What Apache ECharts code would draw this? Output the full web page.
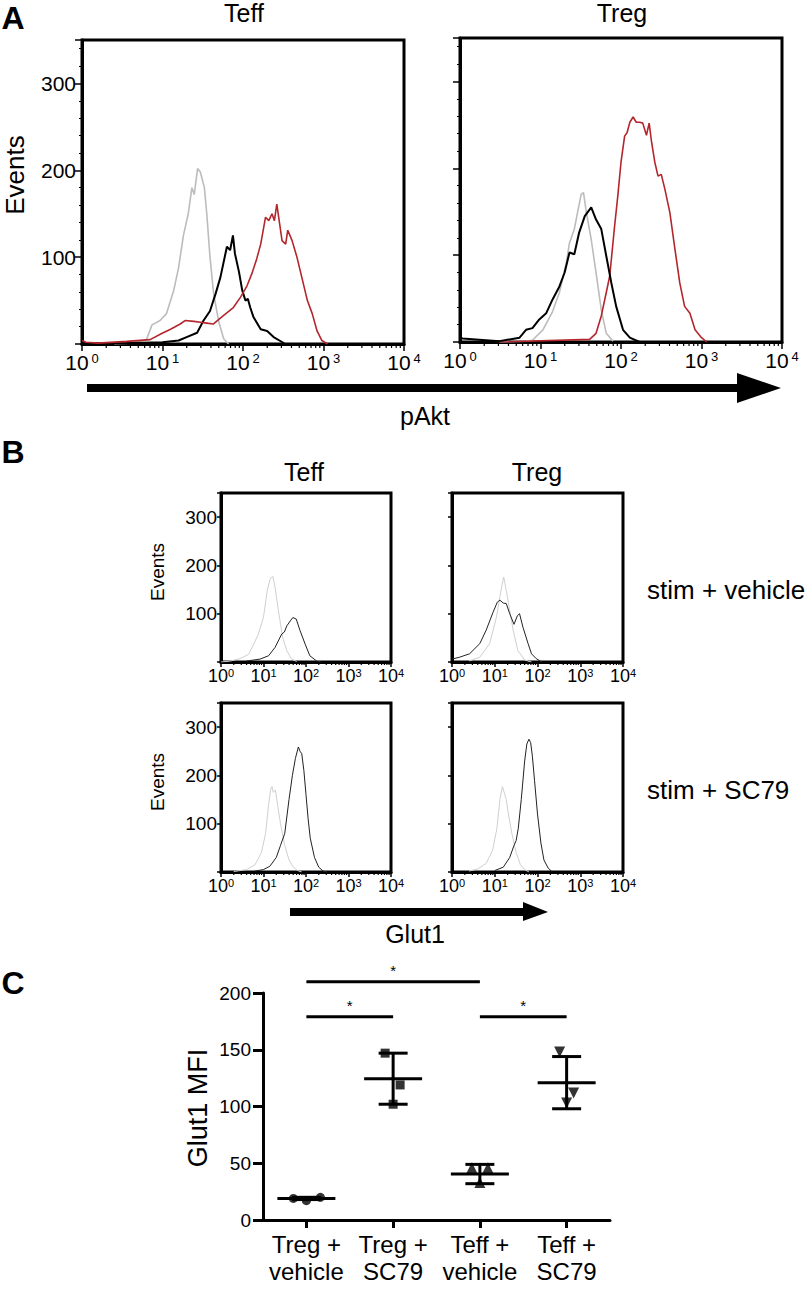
<!DOCTYPE html>
<html><head><meta charset="utf-8">
<script src="https://cdn.jsdelivr.net/npm/echarts@6/dist/echarts.min.js"></script>
<style>html,body{margin:0;padding:0;background:#fff}#c{width:812px;height:1290px}</style>
</head><body><div id="c"></div>
<script>
// ---------- DATA ----------
// Panel A, Teff (x = log10 fluorescence, y = events)
const A_TEFF_GRAY_X = [0.40,0.60,0.80,0.87,0.97,1.05,1.14,1.20,1.26,1.32,1.365,1.394,1.436,1.47,1.52,1.55,1.59,1.635,1.70,1.76,1.82];
const A_TEFF_GRAY_Y = [0,1,5,22,27,35,62,88,125,150,180,172,202,198,180,150,100,58,25,6,0];
const A_TEFF_BLACK_X = [0.0,0.5,1.0,1.2,1.3,1.43,1.51,1.59,1.66,1.72,1.80,1.84,1.875,1.90,1.95,1.99,2.03,2.06,2.09,2.13,2.22,2.30,2.38,2.49,2.52];
const A_TEFF_BLACK_Y = [1,1,2,4,8,13,27,38,58,77,112,108,125,104,83,62,50,52,42,31,17,15,8,2,0];
const A_TEFF_RED_X = [0.0,0.05,0.2,0.556,0.846,0.99,1.10,1.22,1.28,1.39,1.47,1.55,1.63,1.76,1.88,1.97,2.05,2.11,2.17,2.22,2.28,2.32,2.36,2.39,2.42,2.485,2.53,2.556,2.61,2.67,2.73,2.80,2.86,2.92,2.98,3.05];
const A_TEFF_RED_Y = [4,2,1,3,5,12,17,23,27,26,25,24,23,33,42,54,67,81,98,115,146,142,150,142,161,119,115,131,119,100,77,50,35,15,4,0];
// Panel A, Treg
const A_TREG_GRAY_X = [0.49,0.82,0.90,1.03,1.15,1.235,1.32,1.36,1.42,1.46,1.505,1.534,1.57,1.63,1.69,1.755,1.817,1.90];
const A_TREG_GRAY_Y = [0,1,2,14,35,57,91,114,130,149,170,172,149,118,80,37,10,1];
const A_TREG_BLACK_X = [0.0,0.03,0.49,0.74,0.82,0.90,0.985,1.07,1.15,1.235,1.30,1.36,1.42,1.48,1.55,1.63,1.69,1.755,1.817,1.88,1.94,2.025,2.11,2.23];
const A_TREG_BLACK_Y = [6,4,1,5,14,16,26,33,49,64,80,103,101,126,145,155,141,130,99,68,41,14,5,0];
const A_TREG_RED_X = [0.5,1.61,1.69,1.755,1.817,1.86,1.92,1.96,2.0,2.045,2.075,2.11,2.15,2.19,2.233,2.27,2.316,2.35,2.38,2.42,2.46,2.50,2.545,2.607,2.67,2.73,2.79,2.856,2.92,3.0,3.065];
const A_TREG_RED_Y = [0,3,10,30,57,76,133,168,207,237,241,253,259,253,253,252,238,252,230,207,191,193,176,149,107,68,41,33,14,5,0];
// Panel B, stim + vehicle
const B_TEFF_VEH_GRAY_X = [0.0,0.22,0.45,0.65,0.77,0.88,1.0,1.09,1.16,1.22,1.27,1.35,1.45,1.55,1.66,1.78];
const B_TEFF_VEH_GRAY_Y = [0,2,7,16,37,58,93,149,173,177,156,107,51,23,6,1];
const B_TEFF_VEH_BLACK_X = [0.6,0.92,1.12,1.27,1.43,1.49,1.55,1.63,1.69,1.77,1.86,1.98,2.09,2.25,2.35];
const B_TEFF_VEH_BLACK_Y = [2,6,13,30,58,62,75,85,92,89,65,37,13,2,0];
const B_TREG_VEH_GRAY_X = [0.4,0.65,0.88,1.04,1.16,1.21,1.27,1.35,1.43,1.54,1.70,1.86];
const B_TREG_VEH_GRAY_Y = [2,10,38,93,155,176,148,107,66,24,4,0];
const B_TREG_VEH_BLACK_X = [0.0,0.18,0.41,0.65,0.80,0.96,1.06,1.12,1.2,1.27,1.35,1.45,1.53,1.58,1.66,1.78,1.86,1.97,2.1];
const B_TREG_VEH_BLACK_Y = [6,10,17,38,66,103,124,128,122,121,100,78,96,100,72,38,17,7,0];
// Panel B, stim + SC79
const B_TEFF_SC_GRAY_X = [0.3,0.6,0.8,0.95,1.05,1.12,1.17,1.2,1.23,1.28,1.33,1.4,1.5,1.6,1.7,1.8,1.9];
const B_TEFF_SC_GRAY_Y = [1,5,15,40,80,140,172,177,165,170,140,100,55,25,10,3,0];
const B_TEFF_SC_BLACK_X = [0.8,1.0,1.15,1.3,1.4,1.5,1.6,1.68,1.75,1.82,1.86,1.9,1.95,2.0,2.05,2.1,2.2,2.3,2.4,2.5];
const B_TEFF_SC_BLACK_Y = [2,5,12,30,55,80,150,200,235,259,250,245,210,160,110,70,30,10,2,0];
const B_TREG_SC_GRAY_X = [0.4,0.6,0.8,0.95,1.05,1.12,1.18,1.22,1.27,1.32,1.4,1.5,1.6,1.7,1.8];
const B_TREG_SC_GRAY_Y = [2,6,18,45,90,150,177,165,150,120,80,40,15,5,0];
const B_TREG_SC_BLACK_X = [1.0,1.2,1.35,1.45,1.5,1.55,1.62,1.7,1.75,1.8,1.84,1.88,1.93,2.0,2.08,2.15,2.25,2.35];
const B_TREG_SC_BLACK_Y = [3,10,30,55,65,90,150,230,265,275,268,240,190,120,60,25,8,0];
// Log-axis minor tick positions
const LOG_MINOR = [2,3,4,5,6,7,8,9,20,30,40,50,60,70,80,90,200,300,400,500,600,700,800,900,2000,3000,4000,5000,6000,7000,8000,9000];
// Panel C
const CATEGORIES = ['Treg +\nvehicle','Treg +\nSC79','Teff +\nvehicle','Teff +\nSC79'];
const C_POINTS = [[19,17,20],[147,119,102],[46,46,33],[148,112,103]];
const C_MEANS = [19,124.5,40.5,121];
const C_SD = [1,22.5,8.5,23];
const SIG_FROM = [0,0,2];
const SIG_TO = [2,1,3];
const SIG_Y = [210,179,179];
const SIG_TEXT = ['*','*','*'];

// ---------- STYLE ----------
const FONT = 'Liberation Sans, Arial, Helvetica, sans-serif';
const C_SYMBOLS = ['circle','rect','triangle','triangle'];
const C_ROTATE = [0,0,0,180];
const C_JITTER = [[-13,0,14],[-8,7,0],[-8,8,0],[-7,7,0]];
const GRIDS = [
  {left:82, top:40, width:322, height:304},
  {left:460, top:38, width:322, height:304},
  {left:221, top:493, width:170, height:169},
  {left:452, top:493, width:171, height:169},
  {left:221, top:703, width:170, height:169},
  {left:452, top:703, width:171, height:169},
  {left:263, top:993, width:347, height:227}
];

const chart = echarts.init(document.getElementById('c'), null, {renderer:'svg'});

function expLabel(big, small, gap) {
  return {
    color:'#000', margin: big > 19 ? 8 : 5,
    formatter: v => '{b|10}{s|' + Math.round(Math.log10(v)) + '}',
    rich: {
      b:{fontSize:big, fontFamily:FONT, color:'#000'},
      s:{fontSize:small, fontFamily:FONT, color:'#000', verticalAlign:'top', padding:[0,0,0,gap]}
    }
  };
}
function histX(gi, big) {
  return {
    type:'log', logBase:10, min:1, max:10000, gridIndex:gi,
    axisLine:{show:true, onZero:false, lineStyle:{color:'#000', width:3}},
    axisTick:{show:true, length: big ? 7 : 5, lineStyle:{color:'#000', width:1.5}},
    splitLine:{show:false},
    axisLabel: big ? expLabel(21, 13, 3) : expLabel(18, 11, 0)
  };
}
function histY(gi, big, labels) {
  return {
    type:'value', min:0, max:350, interval:100, gridIndex:gi,
    axisLine:{show:true, lineStyle:{color:'#000', width:3}},
    axisTick:{show:true, length: big ? 7 : 4, lineStyle:{color:'#000', width:1.5}},
    minorTick: big ? {show:true, splitNumber:5, length:3, lineStyle:{color:'#000', width:1}} : {show:false},
    splitLine:{show:false},
    axisLabel:{show:labels, color:'#000', fontFamily:FONT, fontSize: big ? 21 : 19, margin: big ? 6 : 4,
      formatter: v => (v > 0 && v % 100 === 0) ? String(v) : ''}
  };
}
function hist(gi, lx, ly, color, width) {
  return {type:'line', xAxisIndex:gi, yAxisIndex:gi, showSymbol:false, symbol:'none', silent:true,
    data: lx.map((e, i) => [Math.pow(10, e), ly[i]]), lineStyle:{color:color, width:width}};
}
function minorTicks(gi, len) {
  return {type:'custom', xAxisIndex:gi, yAxisIndex:gi, silent:true, clip:false,
    data: LOG_MINOR.map(v => [v, 0]),
    renderItem: (p, api) => {
      const c = api.coord([api.value(0), 0]);
      return {type:'line', shape:{x1:c[0], y1:c[1], x2:c[0], y2:c[1] + len}, style:{stroke:'#000', lineWidth:1.2}};
    }};
}

const xAxes = [histX(0,true), histX(1,true), histX(2,false), histX(3,false), histX(4,false), histX(5,false)];
const yAxes = [histY(0,true,true), histY(1,true,false), histY(2,false,true), histY(3,false,false), histY(4,false,true), histY(5,false,false)];
xAxes.push({
  type:'category', gridIndex:6, data:CATEGORIES, boundaryGap:true,
  axisLine:{show:true, lineStyle:{color:'#000', width:3}},
  axisTick:{show:true, alignWithLabel:true, length:8, lineStyle:{color:'#000', width:3}},
  axisLabel:{color:'#000', fontFamily:FONT, fontSize:24, lineHeight:27, margin:11, interval:0},
  splitLine:{show:false}
});
yAxes.push({
  type:'value', gridIndex:6, min:0, max:200, interval:50,
  axisLine:{show:true, lineStyle:{color:'#000', width:3}},
  axisTick:{show:true, length:10, lineStyle:{color:'#000', width:3}},
  axisLabel:{color:'#000', fontFamily:FONT, fontSize:19, margin:12},
  splitLine:{show:false}
});

const GRAY_A = '#bcbcbc', RED_A = '#b3262c';
const series = [
  hist(0, A_TEFF_GRAY_X, A_TEFF_GRAY_Y, GRAY_A, 1.6),
  hist(0, A_TEFF_BLACK_X, A_TEFF_BLACK_Y, '#000', 2),
  hist(0, A_TEFF_RED_X, A_TEFF_RED_Y, RED_A, 1.6),
  hist(1, A_TREG_GRAY_X, A_TREG_GRAY_Y, GRAY_A, 1.6),
  hist(1, A_TREG_RED_X, A_TREG_RED_Y, RED_A, 1.6),
  hist(1, A_TREG_BLACK_X, A_TREG_BLACK_Y, '#000', 2),
  hist(2, B_TEFF_VEH_GRAY_X, B_TEFF_VEH_GRAY_Y, '#cfcfcf', 1),
  hist(2, B_TEFF_VEH_BLACK_X, B_TEFF_VEH_BLACK_Y, '#222', 1),
  hist(3, B_TREG_VEH_GRAY_X, B_TREG_VEH_GRAY_Y, '#cfcfcf', 1),
  hist(3, B_TREG_VEH_BLACK_X, B_TREG_VEH_BLACK_Y, '#222', 1),
  hist(4, B_TEFF_SC_GRAY_X, B_TEFF_SC_GRAY_Y, '#cfcfcf', 1),
  hist(4, B_TEFF_SC_BLACK_X, B_TEFF_SC_BLACK_Y, '#222', 1),
  hist(5, B_TREG_SC_GRAY_X, B_TREG_SC_GRAY_Y, '#cfcfcf', 1),
  hist(5, B_TREG_SC_BLACK_X, B_TREG_SC_BLACK_Y, '#222', 1),
  minorTicks(0, 4), minorTicks(1, 4), minorTicks(2, 3), minorTicks(3, 3), minorTicks(4, 3), minorTicks(5, 3)
];
// Panel C scatter points
C_POINTS.forEach((pts, i) => {
  series.push({
    type:'scatter', xAxisIndex:6, yAxisIndex:6, symbol:C_SYMBOLS[i], symbolRotate:C_ROTATE[i],
    symbolSize: C_SYMBOLS[i] === 'triangle' ? 11 : 9, itemStyle:{color:'#000'}, silent:true, z:3,
    data: pts.map((v, j) => ({value:[i, v], symbolOffset:[C_JITTER[i][j], 0]}))
  });
});
// Mean +/- SD
series.push({
  type:'custom', xAxisIndex:6, yAxisIndex:6, silent:true, z:4,
  data: C_MEANS.map((m, i) => [i, m, C_SD[i]]),
  renderItem: (p, api) => {
    const i = api.value(0), m = api.value(1), sd = api.value(2);
    const c = api.coord([i, m]), hi = api.coord([i, m + sd]), lo = api.coord([i, m - sd]);
    const st = {stroke:'#000', lineWidth:3};
    return {type:'group', children:[
      {type:'line', shape:{x1:c[0]-29, y1:c[1], x2:c[0]+29, y2:c[1]}, style:st},
      {type:'line', shape:{x1:c[0], y1:hi[1], x2:c[0], y2:lo[1]}, style:st},
      {type:'line', shape:{x1:c[0]-14.5, y1:hi[1], x2:c[0]+14.5, y2:hi[1]}, style:st},
      {type:'line', shape:{x1:c[0]-14.5, y1:lo[1], x2:c[0]+14.5, y2:lo[1]}, style:st}
    ]};
  }
});
// Significance bars
series.push({
  type:'custom', xAxisIndex:6, yAxisIndex:6, silent:true, clip:false, z:4,
  data: SIG_Y.map((y, i) => [SIG_FROM[i], SIG_TO[i], y, i]),
  renderItem: (p, api) => {
    const a = api.coord([api.value(0), api.value(2)]), b = api.coord([api.value(1), api.value(2)]);
    return {type:'group', children:[
      {type:'line', shape:{x1:a[0], y1:a[1], x2:b[0], y2:b[1]}, style:{stroke:'#000', lineWidth:3}},
      {type:'text', x:(a[0]+b[0])/2, y:a[1]-4, style:{text:SIG_TEXT[api.value(3)], fontSize:15, fontFamily:FONT, fill:'#000', align:'center', verticalAlign:'bottom'}}
    ]};
  }
});

function txt(t, x, y, size, opts) {
  return Object.assign({type:'text', x:x, y:y, silent:true,
    style:Object.assign({text:t, fontSize:size, fontFamily:FONT, fill:'#000', align:'center', verticalAlign:'middle'}, (opts && opts.style) || {})},
    (opts && opts.el) || {});
}
const graphic = [
  txt('A', 13, 18, 32, {style:{fontWeight:'bold'}}),
  txt('Teff', 244, 13, 25), txt('Treg', 622, 13, 25),
  txt('Events', 15, 175, 26, {el:{rotation:Math.PI/2}}),
  {type:'rect', shape:{x:87, y:384, width:652, height:8}, style:{fill:'#000'}, silent:true},
  {type:'polygon', shape:{points:[[737,373],[781,388],[737,403]]}, style:{fill:'#000'}, silent:true},
  txt('pAkt', 425, 416, 25),
  txt('B', 13, 452, 32, {style:{fontWeight:'bold'}}),
  txt('Teff', 304, 472, 25), txt('Treg', 537, 472, 25),
  txt('Events', 157, 572, 19, {el:{rotation:Math.PI/2}}),
  txt('Events', 157, 782, 19, {el:{rotation:Math.PI/2}}),
  txt('stim + vehicle', 647, 590, 26, {style:{align:'left'}}),
  txt('stim + SC79', 647, 790, 26, {style:{align:'left'}}),
  {type:'rect', shape:{x:290, y:908, width:234, height:8}, style:{fill:'#000'}, silent:true},
  {type:'polygon', shape:{points:[[523,902],[548,912],[523,921]]}, style:{fill:'#000'}, silent:true},
  txt('Glut1', 415, 934, 25),
  txt('C', 13, 983, 32, {style:{fontWeight:'bold'}}),
  txt('Glut1 MFI', 198, 1108, 27, {el:{rotation:Math.PI/2}})
];

chart.setOption({
  animation:false,
  backgroundColor:'#fff',
  textStyle:{fontFamily:FONT},
  grid: GRIDS.map((g, i) => Object.assign({show: i < 6, borderColor:'#000', borderWidth:3, outerBoundsMode:'none', containLabel:false}, g)),
  xAxis: xAxes,
  yAxis: yAxes,
  series: series,
  graphic: graphic
});
</script>
</body></html>
